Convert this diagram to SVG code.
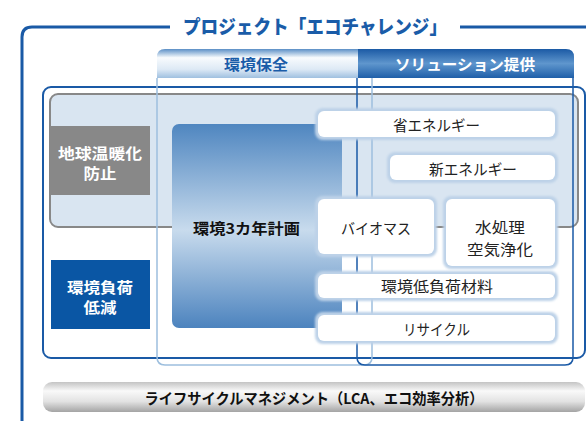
<svg xmlns="http://www.w3.org/2000/svg" width="586" height="421" viewBox="0 0 586 421">
<defs>
<linearGradient id="gTabA" x1="0" y1="0" x2="0" y2="1">
<stop offset="0" stop-color="#5b8fc6"/><stop offset="0.3" stop-color="#f8fbfd"/><stop offset="0.7" stop-color="#dde9f5"/><stop offset="1" stop-color="#9fc0e0"/>
</linearGradient>
<linearGradient id="gTabB" x1="0" y1="0" x2="0" y2="1">
<stop offset="0" stop-color="#1b5aa5"/><stop offset="0.5" stop-color="#5f96cd"/><stop offset="1" stop-color="#1f5fa9"/>
</linearGradient>
<linearGradient id="gPlan" x1="0" y1="0" x2="0" y2="1">
<stop offset="0" stop-color="#4f86c0"/><stop offset="0.52" stop-color="#c8dbed"/><stop offset="1" stop-color="#4c83be"/>
</linearGradient>
<linearGradient id="gBar" x1="0" y1="0" x2="0" y2="1">
<stop offset="0" stop-color="#c4c4c4"/><stop offset="0.3" stop-color="#f9f9f9"/><stop offset="0.65" stop-color="#e2e2e2"/><stop offset="1" stop-color="#a4a4a4"/>
</linearGradient>
<filter id="glow" x="-10%" y="-30%" width="120%" height="160%">
<feGaussianBlur stdDeviation="1.2"/>
</filter>
</defs>
<style>
text{font-family:"Noto Sans CJK JP","Noto Sans",sans-serif;text-anchor:middle}
.lbl{font-size:15px;font-weight:bold;fill:#fff}
.item{font-size:15px;fill:#222}
.halo{fill:#bdd2e8;filter:url(#glow)}
.box{fill:#fff}
</style>
<rect width="586" height="421" fill="#fff"/>
<g id="frame">
<path d="M170 27 H32 Q22 27 22 37 V421 M460 27 H590" fill="none" stroke="#1a5aa6" stroke-width="3"/>
<text x="315" y="34" style="font-size:19px;font-weight:900;fill:#1a5ca8" textLength="264" lengthAdjust="spacingAndGlyphs">プロジェクト「エコチャレンジ」</text>
</g>
<g id="scope">
<rect x="43" y="87" width="542" height="271" rx="8" fill="#fff" stroke="#1a5aa6" stroke-width="2"/>
<rect x="50" y="94" width="528" height="133" rx="8" fill="#d9e5f1" stroke="#888" stroke-width="2"/>
</g>
<g id="tab-env">
<path d="M157 78 V57 Q157 49 165 49 H358 V78 Z" fill="url(#gTabA)"/>
<text x="256" y="70" style="font-size:15px;font-weight:bold;fill:#1a5ca8" textLength="64" lengthAdjust="spacingAndGlyphs">環境保全</text>
</g>
<g id="tab-sol">
<path d="M358 78 V49 H566 Q574 49 574 57 V78 Z" fill="url(#gTabB)"/>
<text x="465" y="70" class="lbl" textLength="140" lengthAdjust="spacingAndGlyphs">ソリューション提供</text>
</g>
<g id="connectors" fill="none">
<path d="M157 78 V357 Q157 365 165 365 H364 Q372 365 372 357 V78" stroke="#9dbfde" stroke-width="1.5"/>
<path d="M357 78 V357 Q357 365 365 365 H565 Q573 365 573 357 V78" stroke="#1a5aa6" stroke-width="1.5"/>
</g>
<g id="warming">
<rect x="50" y="126" width="100" height="69" fill="#888"/>
<text x="100" y="159" class="lbl" textLength="84" lengthAdjust="spacingAndGlyphs">地球温暖化</text>
<text x="100" y="179" class="lbl" textLength="33" lengthAdjust="spacingAndGlyphs">防止</text>
</g>
<g id="burden">
<rect x="51" y="260" width="99" height="69" fill="#0a56a4"/>
<text x="100" y="293" class="lbl" textLength="66" lengthAdjust="spacingAndGlyphs">環境負荷</text>
<text x="100" y="313" class="lbl" textLength="33" lengthAdjust="spacingAndGlyphs">低減</text>
</g>
<g id="plan">
<rect x="172" y="124" width="170" height="204" rx="7" fill="url(#gPlan)"/>
<text x="246.5" y="234" style="font-size:15px;font-weight:bold;fill:#111" textLength="107" lengthAdjust="spacingAndGlyphs">環境3カ年計画</text>
</g>
<g id="save-energy">
<rect x="315" y="108" width="243" height="32" rx="8" class="halo"/>
<rect x="318" y="111" width="237" height="26" rx="6" class="box"/>
<text x="436.5" y="131" class="item" textLength="87" lengthAdjust="spacingAndGlyphs">省エネルギー</text>
</g>
<g id="new-energy">
<rect x="387" y="152" width="171" height="31" rx="8" class="halo"/>
<rect x="390" y="155" width="165" height="25" rx="6" class="box"/>
<text x="473" y="175" class="item" textLength="88" lengthAdjust="spacingAndGlyphs">新エネルギー</text>
</g>
<g id="biomass">
<rect x="315" y="196" width="122" height="61" rx="8" class="halo"/>
<rect x="318" y="199" width="116" height="55" rx="6" class="box"/>
<text x="376" y="234" class="item" textLength="70" lengthAdjust="spacingAndGlyphs">バイオマス</text>
</g>
<g id="water">
<rect x="443" y="196" width="115" height="73" rx="8" class="halo"/>
<rect x="446" y="199" width="109" height="67" rx="6" class="box"/>
<text x="500" y="233" class="item" textLength="50" lengthAdjust="spacingAndGlyphs">水処理</text>
<text x="500" y="255" class="item" textLength="66" lengthAdjust="spacingAndGlyphs">空気浄化</text>
</g>
<g id="materials">
<rect x="315" y="271" width="243" height="30" rx="8" class="halo"/>
<rect x="318" y="274" width="237" height="24" rx="6" class="box"/>
<text x="437" y="292" class="item" textLength="112" lengthAdjust="spacingAndGlyphs">環境低負荷材料</text>
</g>
<g id="recycle">
<rect x="315" y="312" width="243" height="32" rx="8" class="halo"/>
<rect x="318" y="315" width="237" height="26" rx="6" class="box"/>
<text x="436.5" y="335" class="item" textLength="67" lengthAdjust="spacingAndGlyphs">リサイクル</text>
</g>
<g id="lifecycle">
<rect x="43" y="382" width="542" height="30" rx="9" fill="url(#gBar)"/>
<text x="314" y="404" style="font-size:15px;font-weight:bold;fill:#111" textLength="339" lengthAdjust="spacingAndGlyphs">ライフサイクルマネジメント（LCA、エコ効率分析）</text>
</g>
</svg>
